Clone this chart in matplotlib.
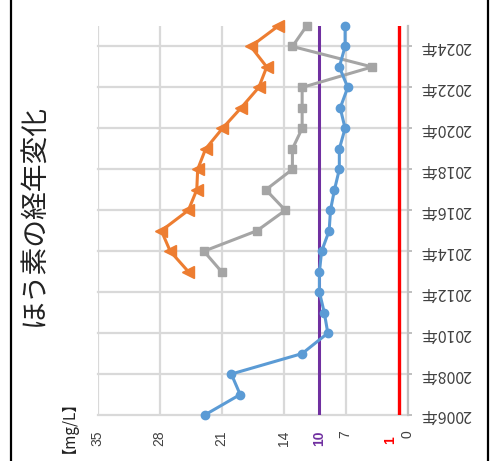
import matplotlib
matplotlib.use("Agg")
import matplotlib.pyplot as plt
import matplotlib.transforms as mtransforms
from matplotlib.lines import Line2D

plt.rcParams['font.family'] = ['Noto Sans CJK JP', 'DejaVu Sans']

# data (mg/L)
years = list(range(2006, 2026))
blue = [22.9, 18.9, 19.9, 11.9, 9.0, 9.4, 9.95, 9.95, 9.7, 8.85,
        8.7, 8.25, 7.7, 7.7, 7.05, 7.6, 6.75, 7.7, 7.05, 7.05]
years_b = list(range(2013, 2026))
gray = [21.0, 23.0, 17.0, 13.8, 16.0, 13.0, 13.0, 11.9, 11.9, 11.9, 4.0, 13.0, 11.4]
orange = [24.75, 26.8, 27.8, 24.75, 23.8, 23.7, 22.8, 20.9, 18.8, 16.8, 15.9, 17.7, 14.6]
limit_purple = 10
limit_red = 1
value_ticks = [0, 7, 14, 21, 28, 35]
year_ticks = list(range(2006, 2025, 2))

fig = plt.figure(figsize=(4.93, 4.61), dpi=100)
ax = fig.add_axes([0.198, 0.0998, 0.6286, 0.8438])

# chart is drawn rotated: values run right-to-left, years bottom-to-top
ax.set_xlim(35, 0)
ax.set_ylim(2006, 2025)

for v in value_ticks:
    ax.axvline(v, color='#D9D9D9', lw=1.6, zorder=1)
for y in year_ticks:
    ax.axhline(y, color='#D9D9D9', lw=1.6, zorder=1, clip_on=False)

ax.plot([limit_red, limit_red], [2006, 2025], color='#FF0000', lw=2.4, zorder=2)
ax.plot([limit_purple, limit_purple], [2006, 2025], color='#7030A0', lw=2.2, zorder=2)

ax.plot(blue, years, color='#5B9BD5', lw=2.2, marker='o', ms=6, zorder=4, clip_on=False)
ax.plot(gray, years_b, color='#A5A5A5', lw=2.2, marker='s', ms=6, zorder=3, clip_on=False)
ax.plot(orange, years_b, color='#ED7D31', lw=2.2, marker='<', ms=8, zorder=3, clip_on=False)

for s in ['top', 'left', 'bottom']:
    ax.spines[s].set_visible(False)
ax.spines['right'].set_color('#BFBFBF')
ax.spines['right'].set_linewidth(1.6)

# value tick labels under the plot
xt = [35, 28, 21, 14, 10, 7, 0]
num_font = ['Liberation Sans', 'DejaVu Sans']
ax.set_xticks(xt)
ax.set_xticklabels([str(v) for v in xt], rotation=90, fontsize=10, family=num_font)
ax.tick_params(axis='x', length=0, pad=11)
for lab in ax.get_xticklabels():
    if lab.get_text() == '10':
        lab.set_color('#7030A0'); lab.set_fontweight('bold')
    else:
        lab.set_color('#404040')

# red "1" label, nudged left so it clears the "0"
trans = mtransforms.blended_transform_factory(ax.transData, ax.transAxes)
trans = trans + mtransforms.ScaledTranslation(-6 / 72, -15 / 72, fig.dpi_scale_trans)
ax.text(limit_red, 0, '1', transform=trans, rotation=90, fontsize=10, family=num_font,
        color='#FF0000', fontweight='bold', ha='center', va='top')

# year labels on the right, upside down
ax.yaxis.tick_right()
ax.set_yticks(year_ticks)
ax.set_yticklabels([f'{y}年' for y in year_ticks], rotation=180, fontsize=11.5)
ax.tick_params(axis='y', length=3, color='#BFBFBF', width=1.4, pad=6, labelcolor='#404040')
for lab in ax.get_yticklabels():
    lab.set_va('center')

fig.text(0.069, 0.534, 'ほう素の経年変化', rotation=90, fontsize=20,
         ha='center', va='center', color='#222222')
fig.text(0.124, 0.091, '【mg/L】', rotation=90, fontsize=11,
         ha='center', va='center', color='#222222')

fig.add_artist(Line2D([0.022, 0.022], [0, 1], color='black', lw=1.6))
fig.add_artist(Line2D([0.989, 0.989], [0, 1], color='black', lw=1.6))

fig.savefig('out.png', dpi=100)
